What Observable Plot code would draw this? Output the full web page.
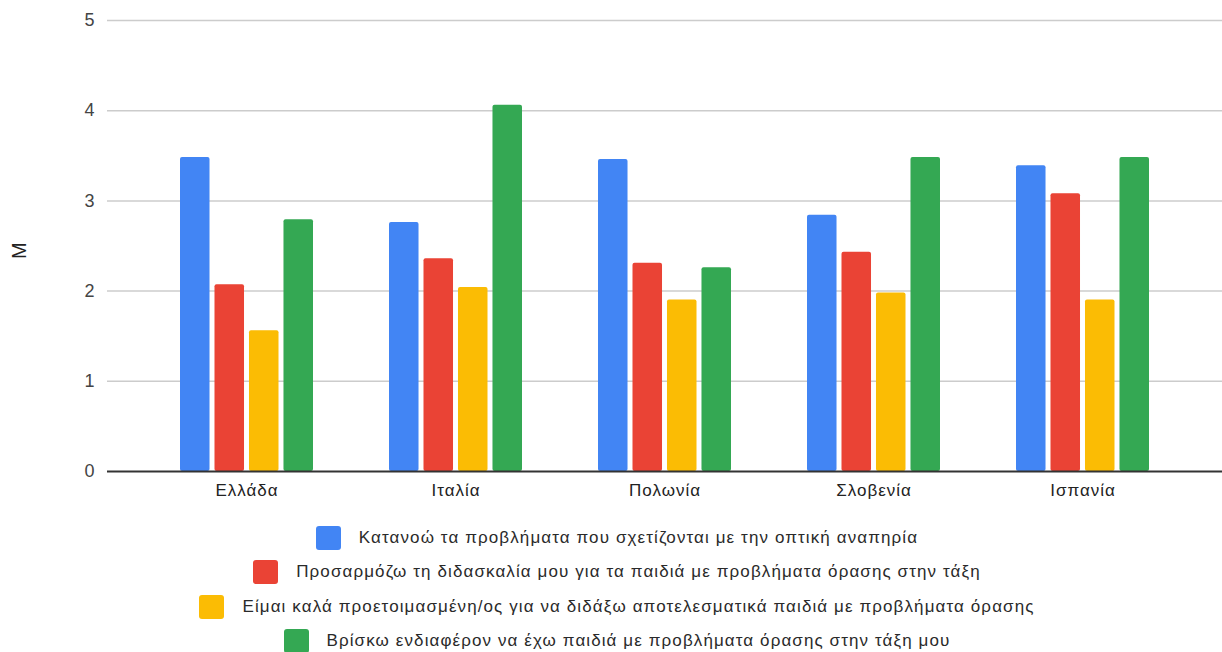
<!DOCTYPE html>
<html>
<head>
<meta charset="utf-8">
<script src="https://cdn.jsdelivr.net/npm/d3@7"></script>
<script src="https://cdn.jsdelivr.net/npm/@observablehq/plot@0.6"></script>
<style>
  html, body { margin: 0; padding: 0; background: #fff; }
  body { width: 1222px; height: 652px; overflow: hidden; font-family: "Liberation Sans", Arial, sans-serif; }
  #legend { display: flex; flex-direction: column; align-items: center; margin-top: 20px; padding-left: 12px; }
  .row { display: flex; align-items: center; height: 34.3px; font-size: 17px; letter-spacing: 1.1px; color: #2a2a2a; }
  .sw { width: 25px; height: 24px; border-radius: 3px; margin-right: 18px; flex: none; }
</style>
</head>
<body>
<div id="chart"></div>
<div id="legend"></div>
<script>
const countries = ["Ελλάδα", "Ιταλία", "Πολωνία", "Σλοβενία", "Ισπανία"];
const seriesNames = [
  "Κατανοώ τα προβλήματα που σχετίζονται με την οπτική αναπηρία",
  "Προσαρμόζω τη διδασκαλία μου για τα παιδιά με προβλήματα όρασης στην τάξη",
  "Είμαι καλά προετοιμασμένη/ος για να διδάξω αποτελεσματικά παιδιά με προβλήματα όρασης",
  "Βρίσκω ενδιαφέρον να έχω παιδιά με προβλήματα όρασης στην τάξη μου"
];
const understand = [3.48, 2.76, 3.46, 2.84, 3.39];
const adapt      = [2.07, 2.36, 2.31, 2.43, 3.08];
const prepared   = [1.56, 2.04, 1.90, 1.98, 1.90];
const interest   = [2.79, 4.06, 2.26, 3.48, 3.48];
const colors = ["#4285F4", "#EA4335", "#FBBC04", "#34A853"];
const yTicks = [0, 1, 2, 3, 4, 5];

const seriesValues = [understand, adapt, prepared, interest];
const data = seriesNames.flatMap((s, i) =>
  countries.map((c, j) => ({ country: c, series: s, value: seriesValues[i][j] }))
);

const width = 1222, height = 501;
const marginLeft = 107, marginRight = 0, marginTop = 20, marginBottom = 30;
const padInner = 0.3616, padOuter = 0.347;

// group band width, then a sub-band per series inside each group
const groupBand = d3.scaleBand(countries, [marginLeft, width - marginRight])
  .paddingInner(padInner).paddingOuter(padOuter);
const bw = groupBand.bandwidth();
const sub = d3.scaleBand(seriesNames, [0, bw]).paddingInner(0.13);

const bars = seriesNames.map((s, i) =>
  Plot.barY(data.filter(d => d.series === s), {
    x: "country",
    y: "value",
    fill: colors[i],
    insetLeft: sub(s),
    insetRight: bw - sub(s) - sub.bandwidth(),
    rx: 2
  })
);

const chart = Plot.plot({
  width, height, marginLeft, marginRight, marginTop, marginBottom,
  style: { fontFamily: "Liberation Sans, Arial, sans-serif", fontSize: "17px", letterSpacing: "1px", background: "#fff" },
  x: { domain: countries, paddingInner: padInner, paddingOuter: padOuter, label: null },
  y: { domain: [0, 5], label: null },
  marks: [
    Plot.ruleY(yTicks.filter(t => t > 0), { stroke: "#cccccc", strokeWidth: 1.5 }),
    ...bars,
    Plot.ruleY([0], { stroke: "#333333", strokeWidth: 2 }),
    Plot.axisY(yTicks, { tickSize: 0, tickPadding: 12, tickFormat: d3.format("d"), fill: "#444", label: null, fontSize: 18 }),
    Plot.axisX({ tickSize: 0, tickPadding: 12, fill: "#222", label: null, fontSize: 17 }),
    Plot.text(["M"], { frameAnchor: "left", dx: -88, dy: 13, rotate: -90, fill: "#222", fontSize: 20 })
  ]
});
document.getElementById("chart").appendChild(chart);

const legend = document.getElementById("legend");
seriesNames.forEach((s, i) => {
  const row = document.createElement("div");
  row.className = "row";
  const sw = document.createElement("span");
  sw.className = "sw";
  sw.style.background = colors[i];
  const label = document.createElement("span");
  label.textContent = s;
  row.appendChild(sw);
  row.appendChild(label);
  legend.appendChild(row);
});
</script>
</body>
</html>
